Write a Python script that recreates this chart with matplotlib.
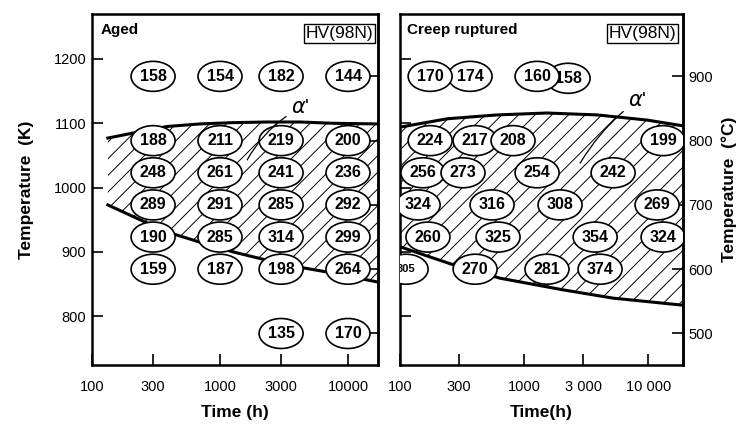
import numpy as np
import matplotlib
matplotlib.use("Agg")
import matplotlib.pyplot as plt
from matplotlib.patches import Ellipse
from matplotlib.transforms import ScaledTranslation

plt.rcParams['font.family'] = ['Liberation Sans', 'DejaVu Sans']
plt.rcParams['hatch.linewidth'] = 0.7

# ---------------- data ----------------
tick_times = [100, 300, 1000, 3000, 10000]
tick_labels_left = ['100', '300', '1000', '3000', '10000']
tick_labels_right = ['100', '300', '1000', '3 000', '10 000']
k_ticks = [800, 900, 1000, 1100, 1200]
c_ticks = [500, 600, 700, 800, 900]

# Aged panel: hardness at temperature (degC) x time (h)
aged_times = [300, 1000, 3000, 10000]
aged_temps_c = [900, 800, 750, 700, 650, 600, 500]
aged_hv = [
    [158, 154, 182, 144],
    [188, 211, 219, 200],
    [248, 261, 241, 236],
    [289, 291, 285, 292],
    [190, 285, 314, 299],
    [159, 187, 198, 264],
    [None, None, 135, 170],
]

# Creep ruptured panel: (time h, temp degC, HV)
creep_time = [175, 367, 1273, 2264,
              175, 403, 815, 13200,
              153, 322, 1273, 5220,
              140, 552, 1950, 11800,
              168, 617, 3740, 13200,
              112, 403, 1530, 4100]
creep_temp_c = [900, 900, 900, 897,
                800, 800, 800, 800,
                750, 750, 750, 750,
                700, 700, 700, 700,
                650, 650, 650, 650,
                600, 600, 600, 600]
creep_hv = [170, 174, 160, 158,
            224, 217, 208, 199,
            256, 273, 254, 242,
            324, 316, 308, 269,
            260, 325, 354, 324,
            305, 270, 281, 374]

# alpha' boundary curves (time h, temperature K)
aged_upper_t = [133, 237, 385, 698, 1260, 2330, 4220, 7640, 17150]
aged_upper_k = [1077, 1087, 1095, 1099, 1101, 1102, 1102, 1100, 1099]
aged_lower_t = [133, 237, 385, 698, 1260, 2330, 4220, 7640, 17150]
aged_lower_k = [973, 950, 931, 915, 900, 887, 876, 867, 853]

creep_upper_t = [100, 240, 606, 1530, 3880, 9810, 19100]
creep_upper_k = [1094, 1107, 1113, 1116, 1113, 1105, 1096]
creep_lower_t = [100, 175, 268, 641, 2050, 5220, 19100]
creep_lower_k = [908, 892, 880, 859, 841, 828, 817]

K0 = 273

fig = plt.figure(figsize=(7.44, 4.26), dpi=100)
axL = fig.add_axes([92/744, 1-365/426, 286/744, 351/426])
axR = fig.add_axes([400/744, 1-365/426, 283/744, 351/426])


def ellipse(ax, t, k, txt, z, fs=11.5):
    tr = ScaledTranslation(t, k, ax.transData)
    e = Ellipse((0, 0), 44, 30, transform=tr, facecolor='white',
                edgecolor='black', lw=1.2, zorder=z)
    ax.add_patch(e)
    ax.text(t, k, str(txt), ha='center', va='center', fontsize=fs,
            fontweight='bold', zorder=z + 0.01, clip_on=True)


def setup(ax, xmax, left_labels, right_labels, xlabels):
    ax.set_xscale('log')
    ax.set_xlim(100, xmax)
    ax.set_ylim(724, 1270)
    ax.set_xticks(tick_times)
    ax.set_xticklabels(xlabels, fontsize=10.5)
    ax.xaxis.set_minor_locator(matplotlib.ticker.NullLocator())
    ax.set_yticks(k_ticks)
    ax.tick_params(axis='x', direction='in', length=8, width=1.2, pad=11)
    ax.tick_params(axis='y', direction='in', length=8, width=1.2, pad=4,
                   labelsize=10.5, labelleft=left_labels)
    for s in ax.spines.values():
        s.set_linewidth(1.8)
    sec = ax.secondary_yaxis('right', functions=(lambda k: k - K0, lambda c: c + K0))
    sec.set_yticks(c_ticks)
    sec.tick_params(direction='in', length=8, width=1.2, labelsize=10.5,
                    labelright=right_labels, pad=4)
    sec.spines['right'].set_linewidth(1.8)
    return sec


setup(axL, 17150, True, False, tick_labels_left)
secR = setup(axR, 19100, False, True, tick_labels_right)
axL.set_yticklabels([str(v) for v in k_ticks])
secR.set_yticklabels([str(v) for v in c_ticks])

# Aged panel
axL.fill_between(aged_upper_t, aged_upper_k, aged_lower_k, facecolor='none',
                 edgecolor='black', hatch='//', lw=0, zorder=1)
axL.plot(aged_upper_t, aged_upper_k, color='black', lw=2.2, zorder=2)
axL.plot(aged_lower_t, aged_lower_k, color='black', lw=2.2, zorder=2)
for i, tc in enumerate(aged_temps_c):
    for j, t in enumerate(aged_times):
        v = aged_hv[i][j]
        if v is not None:
            ellipse(axL, t, tc + K0, v, 5)

# Creep panel
axR.fill_between(creep_upper_t, creep_upper_k,
                 np.interp(np.log(creep_upper_t), np.log(creep_lower_t), creep_lower_k),
                 facecolor='none', edgecolor='black', hatch='//', lw=0, zorder=1)
axR.plot(creep_upper_t, creep_upper_k, color='black', lw=2.2, zorder=2)
axR.plot(creep_lower_t, creep_lower_k, color='black', lw=2.2, zorder=2)
for idx, (t, tc, v) in enumerate(zip(creep_time, creep_temp_c, creep_hv)):
    fs = 8 if v == 305 else 11.5
    ellipse(axR, t, tc + K0, v, 20 - idx * 0.1 if tc >= 897 else 5, fs=fs)

# alpha' labels with leader lines
axL.annotate(r"$\alpha$'", xy=(1630, 1043), xytext=(3600, 1124), fontsize=15,
             ha='left', va='center', zorder=10,
             arrowprops=dict(arrowstyle='-', color='black', lw=0.9,
                             connectionstyle='arc3,rad=0.15',
                             shrinkA=2, shrinkB=0))
axR.annotate(r"$\alpha$'", xy=(2830, 1038), xytext=(6900, 1136), fontsize=15,
             ha='left', va='center', zorder=10,
             arrowprops=dict(arrowstyle='-', color='black', lw=0.9,
                             connectionstyle='arc3,rad=0.1',
                             shrinkA=2, shrinkB=0))

# panel titles
axL.text(0.03, 0.955, 'Aged', transform=axL.transAxes, fontsize=11,
         fontweight='bold', ha='left', va='center')
axR.text(0.025, 0.955, 'Creep ruptured', transform=axR.transAxes, fontsize=11,
         fontweight='bold', ha='left', va='center')
for ax, xr in ((axL, 0.985), (axR, 0.975)):
    ax.text(xr, 0.945, 'HV(98N)', transform=ax.transAxes, fontsize=12.5,
            ha='right', va='center',
            bbox=dict(boxstyle='square,pad=0.1', facecolor='white',
                      edgecolor='black', lw=1.0))

axL.set_xlabel('Time (h)', fontsize=12.5, fontweight='bold', labelpad=8)
axR.set_xlabel('Time(h)', fontsize=12.5, fontweight='bold', labelpad=8)
axL.set_ylabel('Temperature  (K)', fontsize=12.5, fontweight='bold', labelpad=14)
secR.set_ylabel('Temperature  (°C)', fontsize=12.5, fontweight='bold',
                rotation=90, labelpad=6)

fig.savefig('out.png', dpi=100)
